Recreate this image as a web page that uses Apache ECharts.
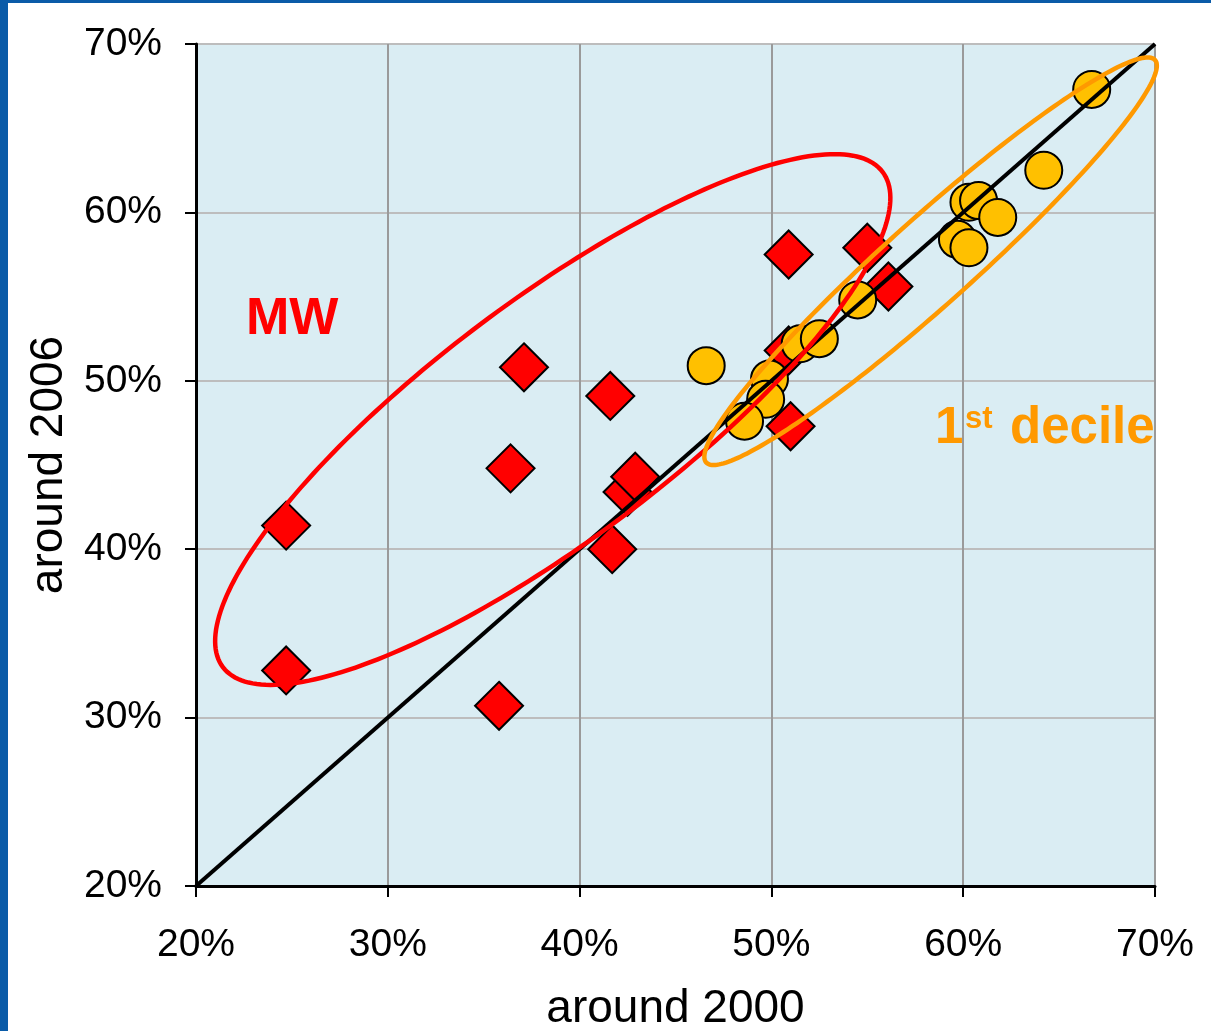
<!DOCTYPE html>
<html lang="en">
<head>
    <meta charset="UTF-8">
    <title>around 2000 vs around 2006</title>
    <script src="https://cdn.jsdelivr.net/npm/echarts@6/dist/echarts.min.js"></script>
    <style>
        body { margin: 0; background: #fff; }
        #main { position: absolute; left: 0; top: 0; width: 1211px; height: 1031px; }
        #bl { position: absolute; left: 0; top: 0; width: 8px; height: 1031px; background: #0A5BA8; }
        #bt { position: absolute; left: 0; top: 0; width: 1211px; height: 3px; background: #0A5BA8; }
    </style>
</head>
<body>
<div id="main"></div>
<div id="bl"></div>
<div id="bt"></div>

<script>
    // tick values of both axes (percent)
    var ticks = [20, 30, 40, 50, 60, 70];

    // MW - red diamonds
    var mwX = [24.7, 24.7, 35.8, 36.4, 37.1, 41.6, 41.7, 42.5, 42.9, 50.9, 50.9, 51.0, 55.0, 56.1];
    var mwY = [41.4, 32.8, 30.7, 44.8, 50.8, 49.1, 40.0, 43.4, 44.3, 51.8, 57.5, 47.3, 57.9, 55.6];

    // 1st decile - yellow circles
    var decX = [46.6, 49.9, 49.7, 48.6, 51.5, 52.5, 54.5, 59.7, 60.3, 60.3, 60.8, 61.8, 64.2, 66.7];
    var decY = [50.9, 50.1, 48.9, 47.6, 52.2, 52.5, 54.8, 58.4, 57.9, 60.6, 60.7, 59.7, 62.5, 67.3];

    // 45 degree line
    var diagX = [20, 70];
    var diagY = [20, 70];

    // ellipses round the two groups: centre, end of long axis, short/long ratio
    var ellCx = [38.6, 58.3];
    var ellCy = [47.7, 57.1];
    var ellTx = [55.8, 70.0];
    var ellTy = [62.4, 69.05];
    var ellRatio = [0.29, 0.143];
    var ellColor = ['#FF0000', '#FF9900'];

    var font = '"Liberation Sans", Arial, sans-serif';

    var myChart = echarts.init(document.getElementById('main'));

    var mwData = mwX.map(function (x, i) { return [x, mwY[i]]; });
    var decData = decX.map(function (x, i) { return [x, decY[i]]; });
    var diagData = diagX.map(function (x, i) { return [x, diagY[i]]; });
    var ellData = ellCx.map(function (x, i) { return [x, ellCy[i], ellTx[i], ellTy[i], ellRatio[i], i]; });

    function axis(name, gap, splitColor, pos) {
        return {
            type: 'value',
            min: ticks[0],
            max: ticks[ticks.length - 1],
            interval: 10,
            name: name,
            nameLocation: 'middle',
            nameGap: gap,
            nameTextStyle: { fontFamily: font, fontSize: 46, color: '#000' },
            axisLine: { show: true, onZero: false, lineStyle: { color: '#000', width: 3 } },
            axisTick: { show: true, length: 11, lineStyle: { color: '#000', width: 2 } },
            axisLabel: {
                fontFamily: font, fontSize: 39, color: '#000',
                margin: pos == 'x' ? 40 : 34,
                formatter: function (v) { return v + '%'; }
            },
            splitLine: { show: true, lineStyle: { color: splitColor, width: 2 } }
        };
    }

    var option = {
        animation: false,
        grid: {
            left: 196, top: 44, right: 56, bottom: 145,
            outerBoundsMode: 'none',
            show: true, backgroundColor: '#DAEDF3', borderWidth: 0
        },
        xAxis: axis('around 2000', 100, '#9A9A9A', 'x'),
        yAxis: axis('around 2006', 124, '#BDBDBD', 'y'),
        series: [
            {
                type: 'scatter',
                name: 'MW',
                data: mwData,
                symbol: 'diamond',
                symbolSize: 48,
                itemStyle: { color: '#FF0000', borderColor: '#000', borderWidth: 2, opacity: 1 },
                z: 2
            },
            {
                type: 'scatter',
                name: '1st decile',
                data: decData,
                symbol: 'circle',
                symbolSize: 37,
                itemStyle: { color: '#FFC000', borderColor: '#000', borderWidth: 2, opacity: 1 },
                z: 3
            },
            {
                type: 'line',
                data: diagData,
                symbol: 'none',
                lineStyle: { color: '#000', width: 4 },
                z: 4
            },
            {
                type: 'custom',
                data: ellData,
                clip: false,
                z: 5,
                renderItem: function (params, api) {
                    var c = api.coord([api.value(0), api.value(1)]);
                    var t = api.coord([api.value(2), api.value(3)]);
                    var dx = t[0] - c[0], dy = t[1] - c[1];
                    var a = Math.sqrt(dx * dx + dy * dy);
                    var b = a * api.value(4);
                    var ux = dx / a, uy = dy / a;
                    var pts = [];
                    for (var k = 0; k < 240; k++) {
                        var th = k / 240 * Math.PI * 2;
                        var p = a * Math.cos(th), q = b * Math.sin(th);
                        pts.push([c[0] + p * ux - q * uy, c[1] + p * uy + q * ux]);
                    }
                    return {
                        type: 'polygon',
                        shape: { points: pts },
                        style: { fill: 'none', stroke: ellColor[api.value(5)], lineWidth: 4.5 }
                    };
                }
            }
        ],
        graphic: [
            { type: 'text', left: 246, top: 294, z: 10,
              style: { text: 'MW', font: 'bold 52px ' + font, fill: '#FF0000' } },
            { type: 'text', left: 935, top: 403, z: 10,
              style: { text: '1', font: 'bold 51px ' + font, fill: '#FF9900' } },
            { type: 'text', left: 965, top: 404, z: 10,
              style: { text: 'st', font: 'bold 31px ' + font, fill: '#FF9900' } },
            { type: 'text', left: 1010, top: 403, z: 10,
              style: { text: 'decile', font: 'bold 51px ' + font, fill: '#FF9900' } }
        ]
    };

    myChart.setOption(option);
</script>
</body>
</html>
